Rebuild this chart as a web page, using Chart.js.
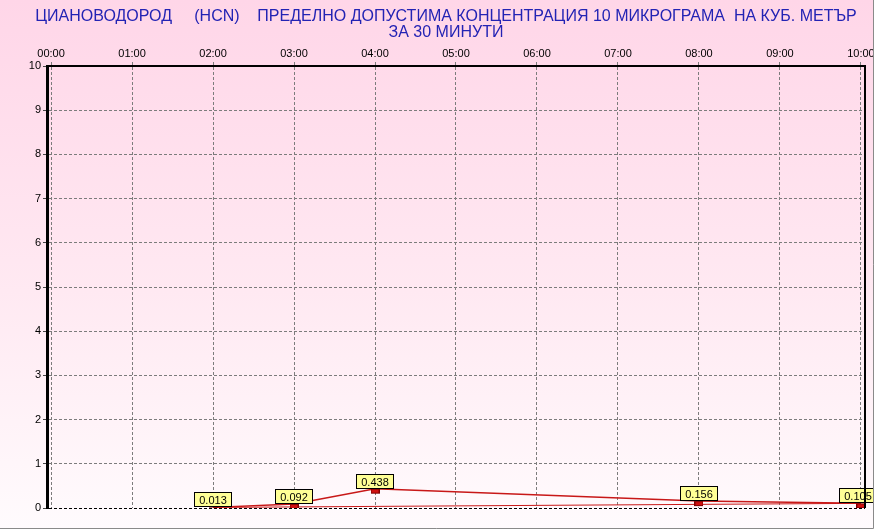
<!DOCTYPE html>
<html>
<head>
<meta charset="utf-8">
<script src="https://cdn.jsdelivr.net/npm/chart.js@4"></script>
<style>
  html, body { margin: 0; padding: 0; background: #fff; }
  #wrap { width: 874px; height: 529px; }
</style>
</head>
<body>
<div id="wrap"><canvas id="hcnChart" width="874" height="529"></canvas></div>
<script>
// ---- data ----
const hours = ['00:00', '01:00', '02:00', '03:00', '04:00', '05:00', '06:00', '07:00', '08:00', '09:00', '10:00'];
const hcnValues = [null, null, 0.013, 0.092, 0.438, null, null, null, 0.156, null, 0.105];
const yTicks = [0, 1, 2, 3, 4, 5, 6, 7, 8, 9, 10];
const titleLines = [
  'ЦИАНОВОДОРОД     (HCN)    ПРЕДЕЛНО ДОПУСТИМА КОНЦЕНТРАЦИЯ 10 МИКРОГРАМА  НА КУБ. МЕТЪР',
  'ЗА 30 МИНУТИ'
];

const FONT = "'Liberation Sans', Arial, sans-serif";

// measured points (x = hour index)
const measured = hours
  .map((h, i) => ({ x: i, y: hcnValues[i] }))
  .filter(p => p.y !== null);

// small red marker that hangs below the point
function makeMarker() {
  const c = document.createElement('canvas');
  c.width = 9;
  c.height = 12;
  const g = c.getContext('2d');
  g.fillStyle = '#d01010';
  g.fillRect(0, 6, 9, 5);
  g.strokeStyle = '#800000';
  g.lineWidth = 1;
  g.strokeRect(0.5, 6.5, 8, 4);
  return c;
}

// pink page background, title and frame
const background = {
  id: 'background',
  beforeDraw(chart) {
    const { ctx, width, height } = chart;
    const grad = ctx.createLinearGradient(0, 0, 0, height);
    grad.addColorStop(0, '#ffd6e8');
    grad.addColorStop(0.55, '#ffe9f2');
    grad.addColorStop(1, '#fffbfd');
    ctx.save();
    ctx.fillStyle = grad;
    ctx.fillRect(0, 0, width, height);

    // title, centred a bit right of the canvas middle like the original
    ctx.fillStyle = '#2323b4';
    ctx.font = '16px ' + FONT;
    ctx.textAlign = 'center';
    ctx.textBaseline = 'middle';
    titleLines.forEach((t, i) => ctx.fillText(t, 446, 17 + i * 16));
    ctx.restore();
  },
  afterDraw(chart) {
    const { ctx, width, height, chartArea } = chart;
    ctx.save();
    // right frame line of the plot
    ctx.strokeStyle = '#000';
    ctx.lineWidth = 2;
    ctx.beginPath();
    ctx.moveTo(chartArea.right, chartArea.top - 1);
    ctx.lineTo(chartArea.right, chartArea.bottom);
    ctx.stroke();
    // grey picture edge
    ctx.strokeStyle = '#8a8a8a';
    ctx.lineWidth = 1;
    ctx.beginPath();
    ctx.moveTo(0, height - 0.5);
    ctx.lineTo(width - 0.5, height - 0.5);
    ctx.lineTo(width - 0.5, 0);
    ctx.stroke();
    ctx.restore();
  }
};

// yellow value boxes above the measured points
const valueBoxes = {
  id: 'valueBoxes',
  afterDatasetsDraw(chart) {
    const { ctx } = chart;
    const meta = chart.getDatasetMeta(0);
    ctx.save();
    ctx.font = '11px ' + FONT;
    ctx.textAlign = 'center';
    ctx.textBaseline = 'middle';
    meta.data.forEach((pt, i) => {
      const raw = chart.data.datasets[0].data[i];
      if (raw.y === null) return;
      const txt = raw.y.toFixed(3);
      const w = Math.round(ctx.measureText(txt).width) + 10;
      const h = 15;
      let left = Math.round(pt.x - w / 2);
      // keep the box (mostly) inside the picture
      if (left + w > chart.width + 3) left = chart.width + 3 - w;
      const top = Math.round(pt.y) - h;
      ctx.fillStyle = '#ffff96';
      ctx.fillRect(left, top, w, h);
      ctx.strokeStyle = '#000';
      ctx.lineWidth = 1;
      ctx.strokeRect(left + 0.5, top + 0.5, w - 1, h - 1);
      ctx.fillStyle = '#000';
      ctx.fillText(txt, left + w / 2, top + h / 2 + 1);
    });
    ctx.restore();
  }
};

function initChart() {
  const marker = makeMarker();
  new Chart(document.getElementById('hcnChart'), {
    type: 'line',
    data: {
      datasets: [{
        data: hours.map((h, i) => ({ x: i, y: hcnValues[i] })),
        borderColor: '#c81818',
        borderWidth: 1.5,
        spanGaps: true,
        tension: 0,
        pointStyle: marker,
        pointRadius: 5,
        pointHoverRadius: 5
      }, {
        // closing line from first to last measurement
        data: [measured[0], measured[measured.length - 1]],
        borderColor: '#c81818',
        borderWidth: 1,
        pointRadius: 0,
        tension: 0
      }]
    },
    options: {
      responsive: false,
      animation: false,
      events: [],
      layout: { padding: { left: 0, right: 9, top: 40, bottom: 21 } },
      plugins: {
        legend: { display: false },
        tooltip: { enabled: false },
        title: { display: false }
      },
      scales: {
        x: {
          type: 'linear',
          position: 'top',
          min: -0.05,
          max: 10.05,
          afterBuildTicks(scale) {
            scale.ticks = hours.map((h, i) => ({ value: i }));
          },
          afterFit(scale) {
            scale.height = 26;
            scale.paddingLeft = 0;
            scale.paddingRight = 0;
          },
          ticks: {
            color: '#000',
            font: { family: FONT, size: 11 },
            padding: 1,
            maxRotation: 0,
            autoSkip: false,
            callback: (v) => hours[v]
          },
          grid: {
            color: '#7c7c7c',
            tickBorderDash: [3, 2],
            tickLength: 4,
            lineWidth: 1
          },
          border: { display: true, color: '#000', width: 2, dash: [3, 2] }
        },
        y: {
          min: 0,
          max: 10,
          afterBuildTicks(scale) {
            scale.ticks = yTicks.map(v => ({ value: v }));
          },
          afterFit(scale) {
            scale.width = 47;
            scale.paddingTop = 0;
            scale.paddingBottom = 0;
          },
          ticks: {
            color: '#000',
            font: { family: FONT, size: 11 },
            padding: 2
          },
          grid: {
            color: (c) => (c.tick && c.tick.value === 0 ? '#000' : '#7c7c7c'),
            tickColor: '#444',
            tickLength: 4,
            lineWidth: 1
          },
          border: { display: true, color: '#000', width: 3, dash: [3, 2] }
        }
      }
    },
    plugins: [background, valueBoxes]
  });
}

document.addEventListener('DOMContentLoaded', initChart);
</script>
</body>
</html>
